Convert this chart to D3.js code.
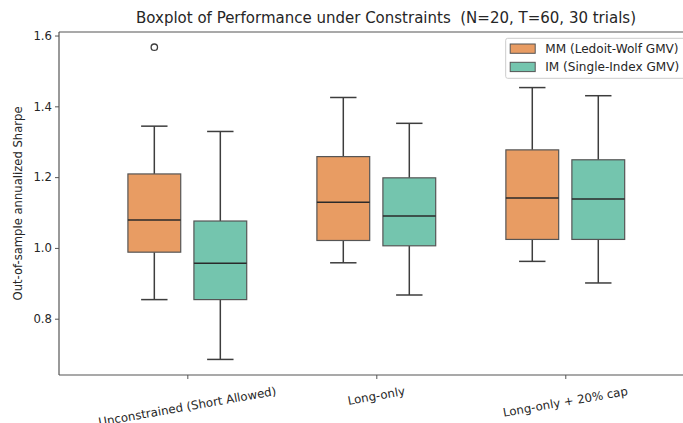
<!DOCTYPE html>
<html lang="en">
<head>
    <meta charset="utf-8">
    <title>Boxplot</title>
    <script src="https://d3js.org/d3.v7.min.js"></script>
    <style>
        body { margin: 0; background: #fff; }
        text { font-family: "DejaVu Sans", sans-serif; fill: #262626; }
    </style>
</head>
<body>
<script>

var categories = ["Unconstrained (Short Allowed)", "Long-only", "Long-only + 20% cap"]
var hues = ["MM (Ledoit-Wolf GMV)", "IM (Single-Index GMV)"]
var colors = ["#e89c63", "#74c5ae"]
// [lower whisker, Q1, median, Q3, upper whisker] per category
var mmStats = [[0.854, 0.988, 1.079, 1.209, 1.344], [0.958, 1.021, 1.129, 1.258, 1.425], [0.962, 1.024, 1.141, 1.277, 1.453]]
var imStats = [[0.685, 0.854, 0.957, 1.076, 1.329], [0.867, 1.006, 1.090, 1.198, 1.352], [0.901, 1.024, 1.138, 1.249, 1.430]]
var mmOutliers = [[1.567], [], []]
var imOutliers = [[], [], []]
var yTicks = [0.8, 1.0, 1.2, 1.4, 1.6]

var w = 683, h = 423
var mLeft = 59, mRight = 693.6, mTop = 32, mBottom = 375

var svg = d3.select("body").append("svg").attr("width", w).attr("height", h)

var x = d3.scalePoint().domain(categories).range([mLeft, mRight]).padding(0.679)
var xh = d3.scaleBand().domain(hues).range([-66, 66]).paddingInner(0.2).paddingOuter(0.1)
var y = d3.scaleLinear().domain([0.641, 1.610]).range([mBottom, mTop])

var stats = [mmStats, imStats]
var outliers = [mmOutliers, imOutliers]
var lineCol = "#3d3d3d"

// y axis
var yAxis = svg.append("g").attr("transform", "translate(" + mLeft + ",0)")
    .call(d3.axisLeft(y).tickValues(yTicks).tickFormat(d3.format(".1f")).tickSize(4).tickPadding(3))
yAxis.select(".domain").remove()
yAxis.selectAll("line").attr("stroke", "#555")
yAxis.selectAll("text").attr("font-size", "11.7px").attr("fill", "#262626")

// x axis ticks
var xAxis = svg.append("g").attr("transform", "translate(0," + mBottom + ")")
    .call(d3.axisBottom(x).tickSize(4).tickFormat(""))
xAxis.select(".domain").remove()
xAxis.selectAll("line").attr("stroke", "#555")

// spines
svg.append("line").attr("x1", mLeft).attr("x2", mLeft).attr("y1", mTop).attr("y2", mBottom).attr("stroke", "#555").attr("stroke-width", 1.2)
svg.append("line").attr("x1", mLeft).attr("x2", mRight).attr("y1", mBottom).attr("y2", mBottom).attr("stroke", "#555").attr("stroke-width", 1.2)
svg.append("line").attr("x1", mLeft).attr("x2", mRight).attr("y1", mTop).attr("y2", mTop).attr("stroke", "#555").attr("stroke-width", 1.2)

// boxes
hues.forEach(function(hue, k) {
    categories.forEach(function(cat, i) {
        var s = stats[k][i]
        var bx = x(cat) + xh(hue)
        var bw = xh.bandwidth()
        var cx = bx + bw / 2
        var g = svg.append("g")
        g.append("line").attr("x1", cx).attr("x2", cx).attr("y1", y(s[3])).attr("y2", y(s[4])).attr("stroke", lineCol).attr("stroke-width", 1.5)
        g.append("line").attr("x1", cx).attr("x2", cx).attr("y1", y(s[1])).attr("y2", y(s[0])).attr("stroke", lineCol).attr("stroke-width", 1.5)
        g.append("line").attr("x1", cx - bw / 4).attr("x2", cx + bw / 4).attr("y1", y(s[4])).attr("y2", y(s[4])).attr("stroke", lineCol).attr("stroke-width", 1.5)
        g.append("line").attr("x1", cx - bw / 4).attr("x2", cx + bw / 4).attr("y1", y(s[0])).attr("y2", y(s[0])).attr("stroke", lineCol).attr("stroke-width", 1.5)
        g.append("rect").attr("x", bx).attr("y", y(s[3])).attr("width", bw).attr("height", y(s[1]) - y(s[3]))
            .attr("fill", colors[k]).attr("stroke", "#555").attr("stroke-width", 1.2)
        g.append("line").attr("x1", bx).attr("x2", bx + bw).attr("y1", y(s[2])).attr("y2", y(s[2])).attr("stroke", "#2a2a2a").attr("stroke-width", 1.5)
        outliers[k][i].forEach(function(v) {
            g.append("circle").attr("cx", cx).attr("cy", y(v)).attr("r", 3.2).attr("fill", "none").attr("stroke", lineCol).attr("stroke-width", 1.3)
        })
    })
})

// x tick labels, rotated about centre
var ang = 10 * Math.PI / 180
categories.forEach(function(cat) {
    var t = svg.append("text").text(cat).attr("font-size", "11.8px").attr("text-anchor", "middle")
        .attr("dominant-baseline", "central")
    var tw = t.node().getComputedTextLength()
    var th = 12
    var cy = mBottom + 10 + (tw * Math.sin(ang) + th * Math.cos(ang)) / 2
    t.attr("transform", "translate(" + x(cat) + "," + cy + ") rotate(-10)")
})

// y label
svg.append("text").text("Out-of-sample annualized Sharpe").attr("font-size", "11.6px").attr("text-anchor", "middle")
    .attr("transform", "translate(22," + ((mTop + mBottom) / 2) + ") rotate(-90)")

// title
svg.append("text").text("Boxplot of Performance under Constraints  (N=20, T=60, 30 trials)").attr("x", 386).attr("y", 23)
    .attr("font-size", "15px").attr("text-anchor", "middle").style("white-space", "pre")

// legend
var lg = svg.append("g").attr("transform", "translate(505.7,38.3)")
lg.append("rect").attr("width", 190).attr("height", 40).attr("rx", 2).attr("fill", "#fff").attr("fill-opacity", 0.8).attr("stroke", "#ccc")
hues.forEach(function(hue, k) {
    lg.append("rect").attr("x", 4.5).attr("y", 5.7 + k * 18.3).attr("width", 25).attr("height", 9.3)
        .attr("fill", colors[k]).attr("stroke", "#555").attr("stroke-width", 1)
    lg.append("text").text(hue).attr("x", 39.5).attr("y", 10.5 + k * 18.3).attr("dominant-baseline", "central").attr("font-size", "12.1px")
})

</script>
</body>
</html>
